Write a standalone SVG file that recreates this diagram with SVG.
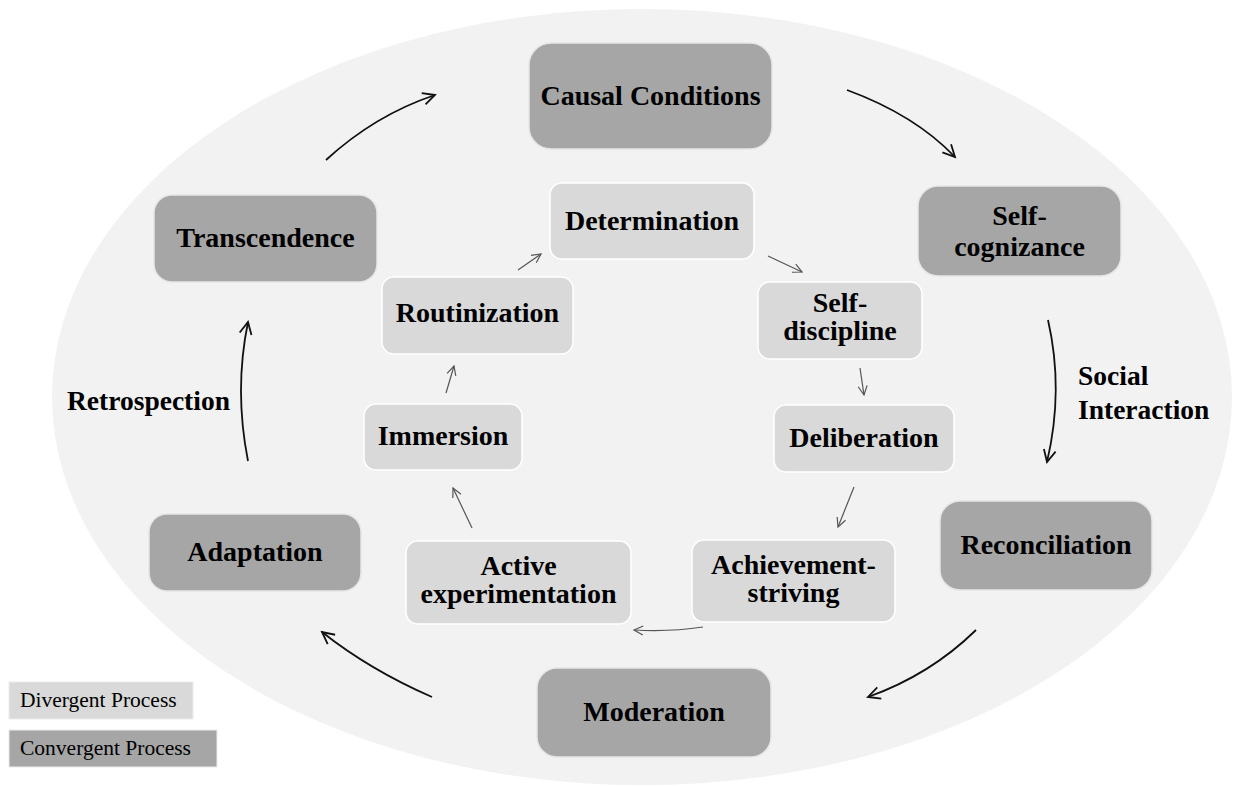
<svg xmlns="http://www.w3.org/2000/svg" width="1233" height="787" viewBox="0 0 1233 787">
  <style>
    .conv { fill: #a6a6a6; stroke: #e6e6e6; stroke-width: 1.5; }
    .div { fill: #d9d9d9; stroke: #ffffff; stroke-width: 1.5; }
    .lbl { font-family: "Liberation Serif", "Times New Roman", serif; font-weight: bold; font-size: 28px; fill: #000; text-anchor: middle; }
    .side { font-family: "Liberation Serif", "Times New Roman", serif; font-weight: bold; font-size: 27.5px; fill: #000; }
    .legend { font-family: "Liberation Serif", "Times New Roman", serif; font-size: 21.5px; fill: #000; }
    .outer { fill: none; stroke: #111; stroke-width: 1.8; marker-end: url(#headOuter); }
    .inner { fill: none; stroke: #555; stroke-width: 1.2; marker-end: url(#headInner); }
  </style>
  <defs>
    <marker id="headOuter" markerUnits="userSpaceOnUse" markerWidth="16" markerHeight="16" refX="13" refY="7" orient="auto" viewBox="0 0 16 14">
      <path d="M1,1 L13,7 L1,13" fill="none" stroke="#111" stroke-width="1.8" stroke-linejoin="miter"/>
    </marker>
    <marker id="headInner" markerUnits="userSpaceOnUse" markerWidth="12" markerHeight="12" refX="10" refY="5.5" orient="auto" viewBox="0 0 12 11">
      <path d="M1,1 L10,5.5 L1,10" fill="none" stroke="#555" stroke-width="1.2"/>
    </marker>
  </defs>

  <rect width="1233" height="787" fill="#ffffff"/>
  <ellipse cx="642" cy="397" rx="590" ry="388" fill="#f2f2f2"/>

  <!-- convergent (outer ring) nodes -->
  <g id="causal-conditions">
    <rect class="conv" x="529" y="43" width="243" height="106" rx="22"/>
    <text class="lbl" x="650.5" y="105">Causal Conditions</text>
  </g>
  <g id="self-cognizance">
    <rect class="conv" x="918" y="186" width="203" height="90" rx="20"/>
    <text class="lbl" x="1019.5" y="225">Self-</text>
    <text class="lbl" x="1019.5" y="256">cognizance</text>
  </g>
  <g id="reconciliation">
    <rect class="conv" x="940" y="501" width="212" height="89" rx="20"/>
    <text class="lbl" x="1046" y="554">Reconciliation</text>
  </g>
  <g id="moderation">
    <rect class="conv" x="537" y="668" width="234" height="89" rx="20"/>
    <text class="lbl" x="654" y="721">Moderation</text>
  </g>
  <g id="adaptation">
    <rect class="conv" x="149" y="514" width="212" height="77" rx="18"/>
    <text class="lbl" x="255" y="561">Adaptation</text>
  </g>
  <g id="transcendence">
    <rect class="conv" x="154" y="195" width="223" height="87" rx="18"/>
    <text class="lbl" x="265.5" y="247">Transcendence</text>
  </g>

  <!-- divergent (inner ring) nodes -->
  <g id="determination">
    <rect class="div" x="550" y="183" width="204" height="76" rx="12"/>
    <text class="lbl" x="652" y="230">Determination</text>
  </g>
  <g id="self-discipline">
    <rect class="div" x="758" y="282" width="164" height="77" rx="12"/>
    <text class="lbl" x="840" y="312">Self-</text>
    <text class="lbl" x="840" y="340">discipline</text>
  </g>
  <g id="deliberation">
    <rect class="div" x="774" y="405" width="180" height="67" rx="12"/>
    <text class="lbl" x="864" y="447">Deliberation</text>
  </g>
  <g id="achievement-striving">
    <rect class="div" x="692" y="540" width="203" height="82" rx="12"/>
    <text class="lbl" x="793.5" y="574">Achievement-</text>
    <text class="lbl" x="793.5" y="602">striving</text>
  </g>
  <g id="active-experimentation">
    <rect class="div" x="406" y="541" width="225" height="83" rx="12"/>
    <text class="lbl" x="518.5" y="575">Active</text>
    <text class="lbl" x="518.5" y="603">experimentation</text>
  </g>
  <g id="immersion">
    <rect class="div" x="364" y="404" width="158" height="66" rx="12"/>
    <text class="lbl" x="443" y="445">Immersion</text>
  </g>
  <g id="routinization">
    <rect class="div" x="382" y="277" width="191" height="77" rx="12"/>
    <text class="lbl" x="477.5" y="322">Routinization</text>
  </g>

  <!-- connectors -->
  <g id="connectors">
    <path class="outer" d="M326,160 Q375,115 435,95"/>
    <path class="outer" d="M847,90 Q915,115 955,157"/>
    <path class="outer" d="M1048,320 Q1064,390 1047,462"/>
    <path class="outer" d="M976,630 Q930,675 868,697"/>
    <path class="outer" d="M432,697 Q370,670 322,632"/>
    <path class="outer" d="M248,461 Q234,390 248,322"/>

    <path class="inner" d="M518,270 L541,254"/>
    <path class="inner" d="M768,256 L802,272"/>
    <path class="inner" d="M860,368 L864,395"/>
    <path class="inner" d="M854,487 L838,527"/>
    <path class="inner" d="M703,627 Q670,632 634,630"/>
    <path class="inner" d="M472,528 L453,488"/>
    <path class="inner" d="M446,393 L454,366"/>
  </g>

  <!-- arc labels -->
  <g id="label-retrospection">
    <text class="side" x="67" y="410">Retrospection</text>
  </g>
  <g id="label-social-interaction">
    <text class="side" x="1078" y="385">Social</text>
    <text class="side" x="1078" y="419">Interaction</text>
  </g>

  <!-- legend -->
  <g id="legend">
    <rect x="9" y="682" width="184" height="37" fill="#d9d9d9" stroke="#ececec"/>
    <text class="legend" x="20" y="707">Divergent Process</text>
    <rect x="9" y="730" width="208" height="37" fill="#a6a6a6" stroke="#ececec"/>
    <text class="legend" x="20" y="755">Convergent Process</text>
  </g>
</svg>
